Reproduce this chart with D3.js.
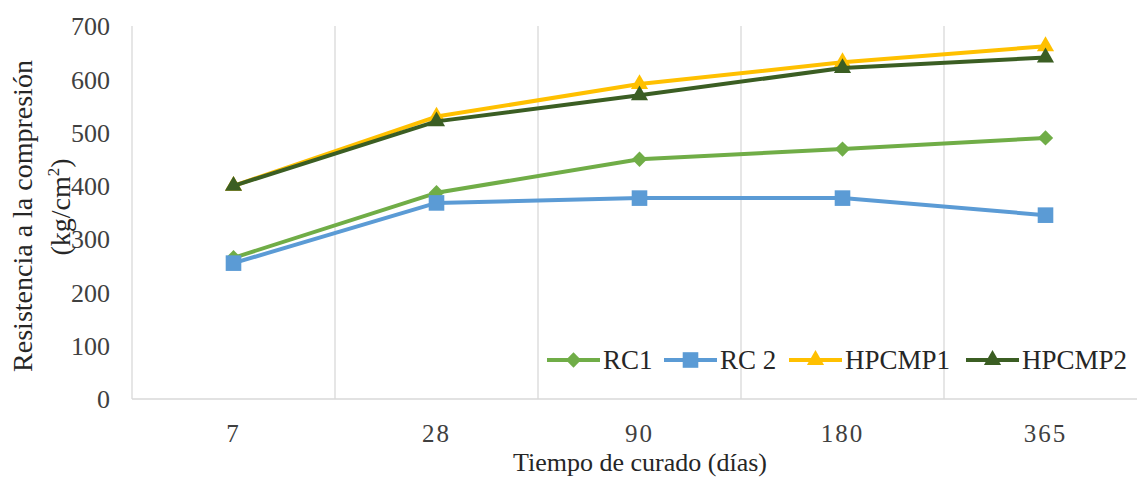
<!DOCTYPE html>
<html>
<head>
<meta charset="utf-8">
<script src="https://cdn.jsdelivr.net/npm/d3@7/dist/d3.min.js"></script>
</head>
<body style="margin:0;padding:0;background:#fff">
<svg id="chart" width="1137" height="477"></svg>
<script>
// Curing time categories (days)
const categories = ["7", "28", "90", "180", "365"];

// Compressive strength per mix (kg/cm²)
const rc1    = [265, 387, 450, 469, 490];
const rc2    = [255, 368, 377, 377, 345];
const hpcmp1 = [400, 530, 591, 632, 662];
const hpcmp2 = [400, 521, 570, 621, 641];

const seriesNames = ["RC1", "RC 2", "HPCMP1", "HPCMP2"];
const yTicks = [0, 100, 200, 300, 400, 500, 600, 700];

const FONT = "'Liberation Serif', Tinos, 'Times New Roman', serif";

const series = [
  { name: seriesNames[0], values: rc1,    color: "#70AD47", marker: "diamond" },
  { name: seriesNames[1], values: rc2,    color: "#5B9BD5", marker: "square" },
  { name: seriesNames[2], values: hpcmp1, color: "#FFC000", marker: "triangle" },
  { name: seriesNames[3], values: hpcmp2, color: "#3B5E23", marker: "triangle" }
];

const svg = d3.select("#chart").style("font-family", FONT);
const plot = { left: 132, right: 1147, top: 26, bottom: 399 };

const x = d3.scaleBand().domain(categories).range([plot.left, plot.right]).padding(0);
const y = d3.scaleLinear().domain([0, 700]).range([plot.bottom, plot.top]);

// Vertical gridlines at category boundaries
const bounds = categories.map(c => x(c)).concat([x(categories[categories.length - 1]) + x.bandwidth()]);
svg.append("g").selectAll("line").data(bounds).join("line")
  .attr("x1", d => d).attr("x2", d => d)
  .attr("y1", plot.top).attr("y2", plot.bottom)
  .attr("stroke", "#D9D9D9").attr("stroke-width", 1.3);

// Baseline
svg.append("line")
  .attr("x1", plot.left).attr("x2", plot.right)
  .attr("y1", y(0)).attr("y2", y(0))
  .attr("stroke", "#D9D9D9").attr("stroke-width", 1.5);

// Y axis tick labels
const yAxis = d3.axisLeft(y).tickValues(yTicks).tickSize(0).tickPadding(0);
const gy = svg.append("g").attr("transform", `translate(${plot.left - 22},0)`).call(yAxis);
gy.attr("font-family", null);
gy.select(".domain").remove();
gy.selectAll("text")
  .attr("dy", "0.34em")
  .style("font-family", FONT).style("font-size", "26px").attr("fill", "#404040");

// X axis tick labels
const xAxis = d3.axisBottom(x).tickSize(0).tickPadding(0);
const gx = svg.append("g").attr("transform", `translate(0,${plot.bottom})`).call(xAxis);
gx.attr("font-family", null);
gx.select(".domain").remove();
gx.selectAll("text")
  .attr("y", 43).attr("dy", 0)
  .style("font-family", FONT).style("font-size", "25px").attr("fill", "#404040")
  .style("letter-spacing", "2px");

// Axis titles
svg.append("text")
  .attr("x", 640).attr("y", 471)
  .attr("text-anchor", "middle")
  .style("font-family", FONT).style("font-size", "26px").attr("fill", "#262626")
  .text("Tiempo de curado (días)");

svg.append("text")
  .attr("transform", "translate(32,216) rotate(-90)")
  .attr("text-anchor", "middle")
  .style("font-family", FONT).style("font-size", "28px").attr("fill", "#262626")
  .text("Resistencia a la compresión");

const yTitle2 = svg.append("text")
  .attr("transform", "translate(70,207) rotate(-90)")
  .attr("text-anchor", "middle")
  .style("font-family", FONT).style("font-size", "28px").attr("fill", "#262626");
yTitle2.append("tspan").text("(kg/cm");
yTitle2.append("tspan").attr("dy", -11).style("font-size", "17px").text("2");
yTitle2.append("tspan").attr("dy", 11).text(")");

// Marker shapes
function markerPath(type) {
  if (type === "diamond") return d3.symbol().type(d3.symbolDiamond2).size(150)();
  if (type === "square") return d3.symbol().type(d3.symbolSquare2).size(310)();
  return d3.symbol().type(d3.symbolTriangle2).size(210)();
}

const cx = c => x(c) + x.bandwidth() / 2;
const line = d3.line().x((d, i) => cx(categories[i])).y(d => y(d));

series.forEach(s => {
  const g = svg.append("g");
  g.append("path")
    .datum(s.values)
    .attr("d", line)
    .attr("fill", "none")
    .attr("stroke", s.color)
    .attr("stroke-width", 4)
    .attr("stroke-linejoin", "round");
  g.selectAll("path.m").data(s.values).join("path")
    .attr("class", "m")
    .attr("transform", (d, i) => `translate(${cx(categories[i])},${y(d)})`)
    .attr("d", markerPath(s.marker))
    .attr("fill", s.color);
});

// Legend
const legendItems = [
  { x: 547, w: 53 },
  { x: 664, w: 53 },
  { x: 789, w: 53 },
  { x: 966, w: 53 }
];
const legendY = 360;
series.forEach((s, i) => {
  const li = legendItems[i];
  const g = svg.append("g");
  g.append("line")
    .attr("x1", li.x).attr("x2", li.x + li.w)
    .attr("y1", legendY).attr("y2", legendY)
    .attr("stroke", s.color).attr("stroke-width", 4);
  g.append("path")
    .attr("transform", `translate(${li.x + li.w / 2},${legendY})`)
    .attr("d", markerPath(s.marker))
    .attr("fill", s.color);
  g.append("text")
    .attr("x", li.x + li.w + 3).attr("y", legendY + 9)
    .style("font-family", FONT).style("font-size", "27px").attr("fill", "#262626")
    .text(s.name);
});
</script>
</body>
</html>
